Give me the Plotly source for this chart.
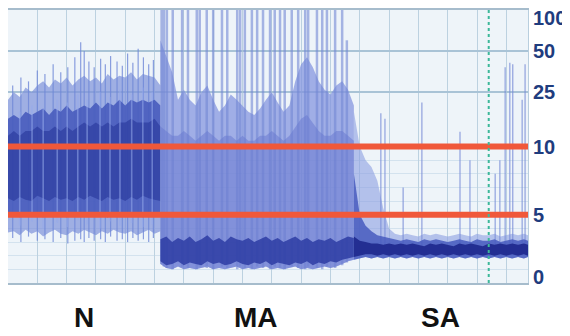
import numpy as np
import plotly.graph_objects as go

# ---------------- data (µV, time in hours) ----------------
segment_names = ["N", "MA", "SA"]
segment_bounds = [0.0, 2.59, 5.87, 8.87]
thresholds = [5, 10]
tick_values = [0, 5, 10, 25, 50, 100]
tick_labels = ["0", "5", "10", "25", "50", "100"]
minor_values = [1, 2, 3, 4, 6, 7, 8, 9]
event_t = [8.20]

# N segment
n_t = [0.0, 0.1, 0.2, 0.3, 0.4, 0.5, 0.6, 0.7, 0.8, 0.9, 1.0, 1.1, 1.2, 1.3,
       1.4, 1.5, 1.6, 1.7, 1.8, 1.9, 2.0, 2.1, 2.2, 2.3, 2.4, 2.5, 2.6]
n_outer_hi = [22, 25, 23, 27, 25, 28, 30, 27, 31, 29, 32, 28, 31, 33, 30, 32,
              29, 34, 31, 33, 32, 35, 31, 34, 33, 32, 28]
n_mid_hi = [16, 17, 16, 18, 17, 18, 19, 17, 19, 18, 20, 18, 19, 20, 19, 21,
            19, 21, 20, 22, 20, 22, 21, 22, 21, 22, 20]
n_inner_hi = [12, 13, 12, 13, 13, 14, 13, 13, 14, 13, 14, 13, 14, 15, 14, 15,
              14, 15, 14, 15, 15, 16, 15, 15, 15, 16, 14]
n_inner_lo = [6.2, 6.0, 6.3, 6.1, 6.0, 6.4, 6.2, 6.0, 6.3, 6.1, 6.2, 6.0, 6.3,
              6.1, 6.4, 6.2, 6.0, 6.3, 6.1, 6.2, 6.0, 6.3, 6.1, 6.4, 6.2, 6.1, 6.0]
n_mid_lo = [4.9, 5.0, 4.8, 5.1, 4.9, 5.0, 4.8, 5.2, 4.9, 5.0, 4.8, 5.1, 4.9,
            5.0, 5.2, 4.9, 5.0, 4.8, 5.1, 5.0, 4.9, 5.1, 5.0, 4.8, 5.0, 5.1, 4.9]
n_outer_lo = [3.7, 3.8, 3.5, 3.9, 3.6, 3.8, 3.4, 3.7, 3.9, 3.6, 3.5, 3.8, 3.6,
              3.9, 3.7, 3.5, 3.8, 3.6, 3.9, 3.7, 3.6, 3.8, 3.5, 3.7, 3.9, 3.6, 3.8]
n_spike_t = [0.08, 0.22, 0.35, 0.5, 0.63, 0.77, 0.9, 1.02, 1.14, 1.24, 1.3,
             1.38, 1.47, 1.58, 1.66, 1.75, 1.86, 1.95, 2.04, 2.13, 2.22, 2.31,
             2.4, 2.48]
n_spike_hi = [28, 32, 30, 36, 34, 40, 35, 38, 45, 58, 50, 42, 38, 44, 40, 46,
              42, 39, 48, 41, 52, 45, 40, 43]
n_spike_lo = [3.3, 3.0, 3.4, 3.1, 3.2, 3.0, 3.3, 2.9, 3.1, 3.2, 3.0, 3.3, 3.1,
              3.2, 3.0, 3.4, 3.1, 3.2, 3.0, 3.3, 3.1, 3.2, 3.0, 3.3]
n_streak_t = [0.20, 0.41, 0.60, 0.84, 1.01, 1.19, 1.35, 1.57, 1.74, 1.91, 2.11,
              2.30, 2.46]
n_streak_lo = [4.2, 4.5, 4.0, 4.4, 4.1, 4.6, 4.3, 4.0, 4.5, 4.2, 4.4, 4.1, 4.3]
n_streak_hi = [18, 20, 19, 22, 21, 24, 22, 25, 23, 26, 24, 27, 25]

# MA segment
ma_t = [2.6, 2.7, 2.8, 2.9, 3.0, 3.1, 3.2, 3.3, 3.4, 3.5, 3.6, 3.7, 3.8, 3.9,
        4.0, 4.1, 4.2, 4.3, 4.4, 4.5, 4.6, 4.7, 4.8, 4.9, 5.0, 5.1, 5.2, 5.3,
        5.4, 5.5, 5.6, 5.7, 5.8, 5.9]
ma_outer_hi = [60, 45, 35, 22, 26, 22, 20, 25, 28, 22, 18, 20, 24, 22, 20,
               18, 17, 19, 22, 25, 21, 18, 20, 30, 40, 45, 38, 30, 26, 24, 28,
               30, 26, 20]
ma_mid_hi = [14, 13, 12, 12, 13, 12, 11, 12, 13, 12, 11, 12, 12, 11, 12, 11,
             11, 12, 12, 13, 12, 11, 12, 14, 16, 17, 15, 13, 12, 12, 13, 13,
             12, 11]
ma_inner_hi = [3.2, 3.4, 3.0, 3.3, 3.1, 3.4, 3.0, 3.2, 3.5, 3.1, 3.3, 3.0, 3.4,
               3.2, 3.1, 3.3, 3.0, 3.2, 3.4, 3.1, 3.3, 3.0, 3.2, 3.4, 3.1, 3.3,
               3.0, 3.2, 3.1, 3.3, 3.0, 3.2, 3.4, 3.3]
ma_inner_lo = [1.6, 1.3, 1.4, 1.6, 1.3, 1.5, 1.4, 1.3, 1.6, 1.4, 1.5, 1.3, 1.4,
               1.6, 1.4, 1.3, 1.5, 1.4, 1.6, 1.3, 1.5, 1.4, 1.3, 1.5, 1.4, 1.6,
               1.3, 1.5, 1.4, 1.6, 1.5, 1.7, 1.8, 1.9]
ma_outer_lo = [1.4, 1.1, 1.0, 1.2, 1.0, 1.1, 1.0, 1.1, 1.2, 1.0, 1.1, 1.0, 1.1,
               1.2, 1.0, 1.1, 1.0, 1.1, 1.2, 1.0, 1.1, 1.0, 1.1, 1.2, 1.0, 1.1,
               1.0, 1.1, 1.2, 1.1, 1.2, 1.4, 1.6, 1.7]
ma_stripe_t = [2.62, 2.66, 2.71, 2.81, 2.97, 3.07, 3.22, 3.27, 3.39, 3.50, 3.65,
               3.74, 3.91, 3.96, 4.04, 4.16, 4.25, 4.35, 4.47, 4.55, 4.64, 4.72,
               4.84, 4.95, 5.07, 5.12, 5.27, 5.36, 5.44, 5.58, 5.70, 5.78]
ma_stripe_hi = [120, 120, 120, 120, 120, 110, 120, 120, 100, 120, 120, 120, 110,
                120, 120, 120, 120, 120, 120, 120, 110, 120, 120, 120, 120, 120,
                120, 110, 120, 120, 120, 60]
ma_stripe_lo = [1.4, 1.2, 1.1, 1.0, 1.2, 1.1, 1.0, 1.2, 1.1, 1.0, 1.2, 1.1, 1.0,
                1.2, 1.1, 1.0, 1.2, 1.1, 1.0, 1.2, 1.1, 1.0, 1.2, 1.1, 1.0, 1.2,
                1.1, 1.0, 1.2, 1.1, 1.3, 1.5]

# SA segment
sa_t = [5.9, 6.0, 6.1, 6.2, 6.3, 6.4, 6.5, 6.6, 6.7, 6.8, 6.9, 7.0, 7.1, 7.2,
        7.3, 7.4, 7.5, 7.6, 7.7, 7.8, 7.9, 8.0, 8.1, 8.2, 8.3, 8.4, 8.5, 8.6,
        8.7, 8.8, 8.87]
sa_outer_hi = [18, 10, 9, 8.5, 7.5, 5.5, 4.0, 3.6, 3.5, 3.6, 3.5, 3.4, 3.6,
               3.5, 3.6, 3.5, 3.4, 3.5, 3.6, 3.5, 3.4, 3.6, 3.5, 3.5, 3.6, 3.4,
               3.5, 3.6, 3.5, 3.6, 3.5]
sa_mid_hi = [8, 5, 4.2, 3.8, 3.5, 3.4, 3.3, 3.2, 3.1, 3.2, 3.1, 3.0, 3.2, 3.1,
             3.2, 3.1, 3.0, 3.1, 3.2, 3.1, 3.0, 3.2, 3.1, 3.1, 3.2, 3.0, 3.1,
             3.2, 3.1, 3.2, 3.1]
sa_inner_hi = [3.4, 3.1, 3.0, 2.9, 2.9, 2.8, 2.9, 2.8, 2.9, 2.8, 2.9, 2.8, 2.7,
               2.9, 2.8, 2.9, 2.8, 2.7, 2.9, 2.8, 2.9, 2.8, 2.7, 2.9, 2.8, 2.9,
               2.8, 2.9, 2.8, 2.9, 2.8]
sa_inner_lo = [1.9, 2.0, 2.1, 2.1, 2.0, 2.1, 2.0, 2.1, 2.0, 2.1, 2.0, 2.1, 2.0,
               2.1, 2.0, 2.1, 2.0, 2.1, 2.0, 2.1, 2.0, 2.1, 2.0, 2.1, 2.0, 2.1,
               2.0, 2.1, 2.0, 2.1, 2.0]
sa_outer_lo = [1.7, 1.8, 1.9, 1.8, 1.9, 1.8, 1.9, 1.8, 1.9, 1.8, 1.9, 1.8, 1.9,
               1.8, 1.9, 1.8, 1.9, 1.8, 1.9, 1.8, 1.9, 1.8, 1.9, 1.8, 1.9, 1.8,
               1.9, 1.8, 1.9, 1.8, 1.9]
sa_spike_t = [6.36, 6.43, 6.74, 7.06, 7.71, 7.88, 8.31, 8.39, 8.48, 8.56, 8.61,
              8.77, 8.82]
sa_spike_hi = [17.5, 16, 7, 21, 12.8, 9, 8, 9, 38, 41, 40, 22, 40]
sa_spike_lo = [2.5, 2.5, 2.5, 2.5, 2.5, 2.5, 2.5, 2.5, 2.5, 2.5, 2.5, 2.5, 2.5]


# ---------------- semi-log aEEG scale: linear 0-10, log 10-100 ----------------
def f(v):
    v = np.asarray(v, dtype=float)
    return np.where(v <= 10, v / 10.0, 1.0 + np.log10(np.maximum(v, 1e-9) / 10.0))


fig = go.Figure()


def band(t, lo, hi, color):
    fig.add_trace(go.Scatter(x=t, y=f(lo), mode="lines", line=dict(width=0),
                             hoverinfo="skip", showlegend=False))
    fig.add_trace(go.Scatter(x=t, y=f(hi), mode="lines", line=dict(width=0),
                             fill="tonexty", fillcolor=color,
                             hoverinfo="skip", showlegend=False))


def spikes(t, lo, hi, color, width):
    xs, ys = [], []
    for ti, l, h in zip(t, lo, hi):
        xs += [ti, ti, None]
        ys += [float(f(l)), float(f(h)), None]
    fig.add_trace(go.Scatter(x=xs, y=ys, mode="lines",
                             line=dict(color=color, width=width),
                             hoverinfo="skip", showlegend=False))


# N
band(n_t, n_outer_lo, n_outer_hi, "rgba(125,145,218,0.7)")
spikes(n_spike_t, n_spike_lo, n_spike_hi, "rgba(110,135,215,0.8)", 1.2)
band(n_t, n_mid_lo, n_mid_hi, "rgba(72,92,188,0.9)")
band(n_t, n_inner_lo, n_inner_hi, "rgba(35,50,150,0.55)")
spikes(n_streak_t, n_streak_lo, n_streak_hi, "rgba(150,170,235,0.55)", 1.6)

# MA
band(ma_t, ma_outer_lo, ma_outer_hi, "rgba(130,147,222,0.72)")
spikes(ma_stripe_t, ma_stripe_lo, ma_stripe_hi, "rgba(115,135,212,0.6)", 2.5)
band(ma_t, ma_outer_lo, ma_mid_hi, "rgba(105,122,208,0.55)")
band(ma_t, ma_inner_lo, ma_inner_hi, "rgba(40,55,160,0.8)")

# SA
band(sa_t, sa_outer_lo, sa_outer_hi, "rgba(140,158,225,0.6)")
spikes(sa_spike_t, sa_spike_lo, sa_spike_hi, "rgba(120,140,215,0.8)", 1.2)
band(sa_t, sa_outer_lo, sa_mid_hi, "rgba(70,90,190,0.85)")
band(sa_t, sa_inner_lo, sa_inner_hi, "rgba(30,40,140,0.9)")

# threshold lines
for th in thresholds:
    fig.add_shape(type="line", xref="paper", x0=0, x1=1, yref="y",
                  y0=float(f(th)), y1=float(f(th)),
                  line=dict(color="#f0583a", width=6), layer="above")

# event marker (green dotted)
for et in event_t:
    fig.add_shape(type="line", xref="x", x0=et, x1=et, yref="paper", y0=0, y1=1,
                  line=dict(color="#3cb89a", width=2, dash="dot"), layer="above")

# right-hand amplitude labels
for v, lab in zip(tick_values, tick_labels):
    shift = -8 if v == max(tick_values) else (6 if v == min(tick_values) else 0)
    fig.add_annotation(x=1, xref="paper", xanchor="left", xshift=3,
                       y=float(f(v)), yref="y", yanchor="middle", yshift=shift,
                       text=lab, showarrow=False,
                       font=dict(family="Liberation Sans, Arial", size=20,
                                 color="#1f3c7e", weight="bold"))

# segment labels under the plot
for name, a, b in zip(segment_names, segment_bounds[:-1], segment_bounds[1:]):
    fig.add_annotation(x=(a + b) / 2, xref="x", y=0, yref="paper", yshift=-34,
                       yanchor="middle", text=name, showarrow=False,
                       font=dict(family="Liberation Sans, Arial", size=28,
                                 color="#111111", weight="bold"))

# page body has an 8px margin: figure is sized to fill the rest of the window
fig.update_layout(
    width=562, height=328,
    margin=dict(l=0, r=42, t=2, b=53),
    paper_bgcolor="white", plot_bgcolor="#eef4f9",
    showlegend=False,
    xaxis=dict(range=[segment_bounds[0], segment_bounds[-1]], showticklabels=False,
               ticks="", tick0=0, dtick=0.5, showgrid=True, gridcolor="#bcd1e0",
               gridwidth=1, zeroline=False, showline=True, mirror=True,
               linecolor="#a6bccc", linewidth=2),
    yaxis=dict(range=[0, 2], tickvals=[float(f(v)) for v in tick_values],
               showticklabels=False, ticks="", showgrid=True,
               gridcolor="#a9c3d6", gridwidth=1.5, zeroline=False,
               showline=True, mirror=True, linecolor="#b8cede", linewidth=1,
               minor=dict(tickvals=[float(f(v)) for v in minor_values],
                          showgrid=True, gridcolor="#d3e2ee", gridwidth=1)),
)

fig.write_html("out.html")
